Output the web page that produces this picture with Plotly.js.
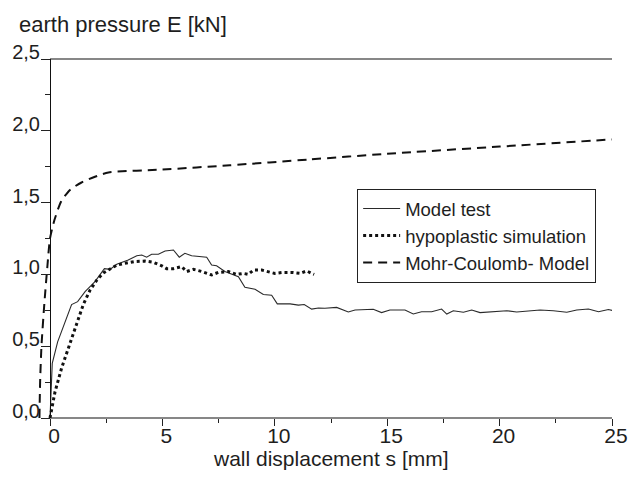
<!DOCTYPE html>
<html>
<head>
<meta charset="utf-8">
<script src="https://cdn.plot.ly/plotly-3.0.1.min.js"></script>
<style>html,body{margin:0;padding:0;background:#fff;}#chart{width:629px;height:480px;}</style>
</head>
<body>
<div id="chart"></div>
<script>
// Model test (measured)
var testX = [0, 0.1, 0.34, 0.67, 0.96, 1.23, 1.56, 2.0, 2.42, 2.67, 2.97, 3.48, 3.86, 4.08, 4.3, 4.52, 4.82, 5.12, 5.49, 5.75, 6.0, 6.3, 6.97, 7.19, 7.41, 7.78, 8.08, 8.38, 8.67, 8.97, 9.12, 9.49, 9.86, 10.11, 10.68, 11.05, 11.31, 11.64, 11.94, 12.23, 12.75, 13.27, 13.57, 14.38, 14.75, 15.12, 15.79, 16.16, 16.53, 16.98, 17.42, 17.65, 17.94, 18.39, 18.76, 19.13, 19.57, 20.32, 20.76, 21.35, 21.8, 22.39, 22.99, 23.43, 23.95, 24.4, 24.84, 25.06];
var testY = [0.0, 0.38, 0.53, 0.67, 0.79, 0.81, 0.88, 0.95, 1.04, 1.035, 1.07, 1.10, 1.13, 1.135, 1.12, 1.14, 1.14, 1.163, 1.17, 1.12, 1.147, 1.13, 1.12, 1.065, 1.06, 1.02, 1.0, 0.984, 0.91, 0.90, 0.896, 0.86, 0.855, 0.795, 0.795, 0.786, 0.79, 0.758, 0.766, 0.764, 0.77, 0.738, 0.752, 0.757, 0.734, 0.752, 0.752, 0.724, 0.74, 0.74, 0.759, 0.724, 0.747, 0.736, 0.752, 0.734, 0.74, 0.747, 0.738, 0.747, 0.752, 0.747, 0.736, 0.752, 0.759, 0.74, 0.755, 0.747];

// hypoplastic simulation
var hypoX = [0, 0.22, 0.52, 0.82, 1.04, 1.26, 1.48, 1.78, 2.08, 2.37, 2.67, 2.97, 3.34, 3.78, 4.23, 4.6, 4.97, 5.19, 5.49, 5.86, 6.08, 6.38, 6.75, 7.19, 7.49, 7.93, 8.3, 8.6, 8.82, 9.05, 9.42, 9.71, 10.0, 10.38, 10.75, 11.12, 11.42, 11.64, 11.75];
var hypoY = [0.0, 0.18, 0.35, 0.49, 0.58, 0.69, 0.79, 0.89, 0.96, 1.01, 1.04, 1.065, 1.077, 1.09, 1.093, 1.084, 1.06, 1.04, 1.04, 1.054, 1.02, 1.035, 1.02, 0.996, 1.014, 1.02, 1.0, 1.007, 1.0, 1.03, 1.03, 1.02, 1.007, 1.014, 1.014, 1.007, 1.024, 1.007, 1.0];

// Mohr-Coulomb model
var mcX = [-0.47, -0.44, -0.38, -0.25, -0.12, 0.0, 0.2, 0.5, 0.9, 1.4, 2.0, 2.6, 5.0, 8.0, 11.5, 15.0, 20.0, 25.0];
var mcY = [0.0, 0.25, 0.5, 0.8, 1.05, 1.25, 1.38, 1.51, 1.59, 1.64, 1.68, 1.71, 1.73, 1.76, 1.80, 1.84, 1.89, 1.94];

var seriesNames = ['Model test', 'hypoplastic simulation', 'Mohr-Coulomb- Model'];
var xTickVals = [0, 5, 10, 15, 20, 25];
var yTickVals = [0, 0.5, 1.0, 1.5, 2.0, 2.5];
var yTickText = ['0,0', '0,5', '1,0', '1,5', '2,0', '2,5'];

var ink = '#1e1e1e';
var FONT = 'Liberation Sans, Arial, Helvetica, sans-serif';

var traces = [
  {x: testX, y: testY, name: seriesNames[0], mode: 'lines', type: 'scatter',
   line: {color: '#2a2a2a', width: 1.1}},
  {x: hypoX, y: hypoY, name: seriesNames[1], mode: 'lines', type: 'scatter',
   line: {color: '#111', width: 3, dash: 'dot'}},
  {x: mcX, y: mcY, name: seriesNames[2], mode: 'lines', type: 'scatter',
   line: {color: '#111', width: 2, dash: '9px,6px', shape: 'spline', smoothing: 0.6}}
];

var xr = [-0.534, 25];
var layout = {
  width: 629, height: 480,
  margin: {l: 38, r: 17, t: 59, b: 62, pad: 0},
  paper_bgcolor: '#fff', plot_bgcolor: '#fff',
  font: {family: FONT, color: ink, size: 20},
  showlegend: true,
  legend: {x: 0.556, y: 0.638, xanchor: 'left', yanchor: 'top', itemwidth: 37,
    bgcolor: '#fff', bordercolor: '#222', borderwidth: 1,
    font: {family: FONT, size: 18.5, color: ink}},
  xaxis: {range: xr, showline: false, zeroline: false, showgrid: false,
    tickmode: 'array', tickvals: xTickVals, ticktext: xTickVals.map(String),
    ticks: 'outside', ticklen: 7, tickwidth: 1, tickcolor: '#222', ticklabelshift: 4, ticklabelstandoff: -8,
    minor: {tickvals: [2.5, 7.5, 12.5, 17.5, 22.5], ticks: 'outside', ticklen: 4, tickcolor: '#222'},
    tickfont: {size: 21, family: FONT, color: ink}},
  xaxis2: {range: xr, overlaying: 'x', side: 'top', anchor: 'y', showline: false, zeroline: false, showgrid: false,
    tickmode: 'array', tickvals: xTickVals, ticks: 'inside', ticklen: 8, tickcolor: '#222', showticklabels: false,
    minor: {tickvals: [2.5, 7.5, 12.5, 17.5, 22.5], ticks: 'inside', ticklen: 4, tickcolor: '#222'}},
  yaxis: {range: [0, 2.5], anchor: 'free', position: 12/574, showline: true, linecolor: '#111', linewidth: 1.2,
    zeroline: false, showgrid: false,
    tickmode: 'array', tickvals: yTickVals, ticktext: yTickText,
    ticks: 'outside', ticklen: 9, tickcolor: '#222', ticklabelshift: -7, ticklabelstandoff: -3,
    minor: {tickvals: [0.25, 0.75, 1.25, 1.75, 2.25], ticks: 'outside', ticklen: 5, tickcolor: '#222'},
    tickfont: {size: 20, family: FONT, color: ink}},
  yaxis2: {range: [0, 2.5], overlaying: 'y', side: 'right', anchor: 'x', showline: true, linecolor: '#111', linewidth: 1.2,
    zeroline: false, showgrid: false,
    tickmode: 'array', tickvals: yTickVals, ticks: 'inside', ticklen: 8, tickcolor: '#222', showticklabels: false,
    minor: {tickvals: [0.25, 0.75, 1.25, 1.75, 2.25], ticks: 'inside', ticklen: 8, tickcolor: '#222'}},
  shapes: [
    {type: 'line', xref: 'x', yref: 'paper', x0: 0, x1: 25, y0: 0, y1: 0, line: {color: '#111', width: 1.2}},
    {type: 'line', xref: 'x', yref: 'paper', x0: 0, x1: 25, y0: 1, y1: 1, line: {color: '#111', width: 1.2}}
  ],
  annotations: [
    {text: 'earth pressure E [kN]', xref: 'paper', yref: 'paper', x: (17 - 38) / 574, y: (418 - 39) / 359,
     xanchor: 'left', yanchor: 'bottom', showarrow: false, font: {family: FONT, size: 22, color: ink}},
    {text: 'wall displacement s [mm]', xref: 'x', yref: 'paper', x: 12.5, y: (418 - 445) / 359,
     xanchor: 'center', yanchor: 'top', showarrow: false, font: {family: FONT, size: 21, color: ink}}
  ]
};

Plotly.newPlot('chart', traces, layout, {displayModeBar: false, staticPlot: true});
</script>
</body>
</html>
